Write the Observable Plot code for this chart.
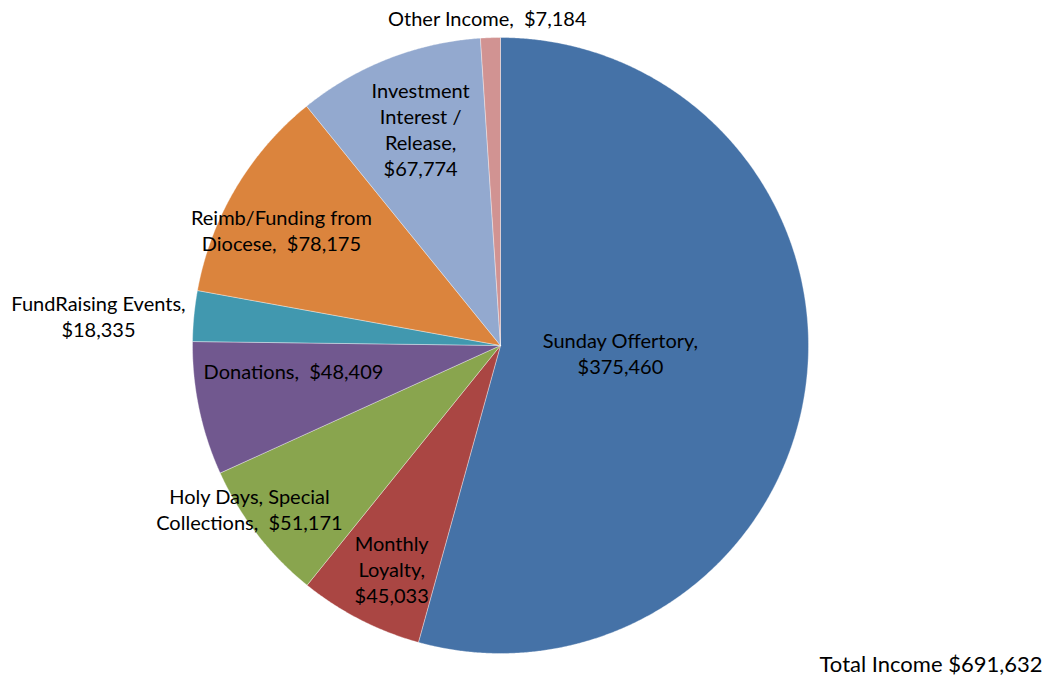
<!DOCTYPE html>
<html><head><meta charset="utf-8">
<script src="https://cdn.jsdelivr.net/npm/d3@7"></script>
<script src="https://cdn.jsdelivr.net/npm/@observablehq/plot@0.6"></script>
<style>body{margin:0;background:#fff}</style>
</head><body><div id="chart"></div>
<script>
// ---- data ----
const categories = ["Sunday Offertory","Monthly Loyalty","Holy Days, Special Collections","Donations","FundRaising Events","Reimb/Funding from Diocese","Investment Interest / Release","Other Income"];
const amounts = [375460, 45033, 51171, 48409, 18335, 78175, 67774, 7184];
const labelTemplates = ["Sunday Offertory,\n{v}","Monthly\nLoyalty,\n{v}","Holy Days, Special\nCollections,  {v}","Donations,  {v}","FundRaising Events,\n{v}","Reimb/Funding from\nDiocese,  {v}","Investment\nInterest /\nRelease,\n{v}","Other Income,  {v}"];
const colors = ["#4572A7","#AA4643","#89A54E","#71588F","#4198AF","#DB843D","#93A9CF","#D19392"];
const totalLabel = "Total Income $691,632";

// ---- layout (label placement: angle in degrees clockwise from top, radius as fraction of pie radius) ----
const labelAngle = [93.3, 206.0, 237.0, 263.1, 274.3, 297.9, 339.8, 357.7];
const labelRadius = [0.39, 0.806, 0.972, 0.677, 1.309, 0.805, 0.751, 1.066];
const R = 308;
const font = "Lato, 'Open Sans', sans-serif";

const fmt = d3.format("$,");
const arcs = d3.pie().sort(null).value(d => d)(amounts);
const slicePoints = [];
arcs.forEach((a, i) => {
  const n = Math.max(2, Math.ceil((a.endAngle - a.startAngle) / 0.005));
  slicePoints.push({k: i, x: 0, y: 0});
  for (let j = 0; j <= n; j++) {
    const t = a.startAngle + (a.endAngle - a.startAngle) * j / n;
    slicePoints.push({k: i, x: R * Math.sin(t), y: R * Math.cos(t)});
  }
  slicePoints.push({k: i, x: 0, y: 0});
});
const labels = categories.map((c, i) => {
  const t = labelAngle[i] * Math.PI / 180;
  return {
    text: labelTemplates[i].replace("{v}", fmt(amounts[i])),
    x: labelRadius[i] * R * Math.sin(t),
    y: labelRadius[i] * R * Math.cos(t)
  };
});

const marks = categories.map((c, i) => Plot.line(slicePoints.filter(p => p.k === i), {
  x: "x", y: "y", fill: colors[i], stroke: "#ffffff", strokeWidth: 0.6, strokeOpacity: 0.6, curve: "linear-closed"
}));
marks.push(Plot.text(labels, {x: "x", y: "y", text: "text", fontSize: 20, lineHeight: 1.3, fill: "#000", textAnchor: "middle", fontFamily: font}));
marks.push(Plot.text([totalLabel], {frameAnchor: "bottom-right", dx: -7, dy: -10, fontSize: 22, textAnchor: "end", fill: "#000", fontFamily: font}));

const chart = Plot.plot({
  width: 1049, height: 681,
  marginTop: 0, marginRight: 0, marginBottom: 0, marginLeft: 0,
  x: {domain: [-500, 549], axis: null},
  y: {domain: [-336, 345], axis: null},
  style: {fontFamily: font, background: "#fff"},
  marks
});
document.getElementById("chart").appendChild(chart);
</script>
</body></html>
